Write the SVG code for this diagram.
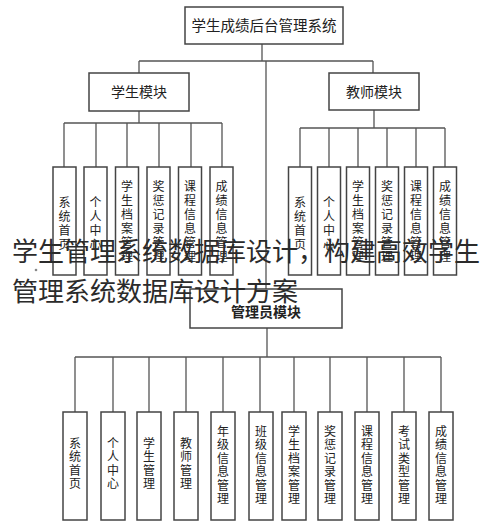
<svg xmlns="http://www.w3.org/2000/svg" width="490" height="524" viewBox="0 0 490 524">
<style>
.box{fill:#fff;stroke:#444;stroke-width:1.5}
.ln{fill:none;stroke:#555;stroke-width:1.3}
.t{font-family:"Noto Sans CJK SC","Noto Sans",sans-serif;fill:#222;text-anchor:middle}
.h{font-size:14.5px}
.m{font-size:14px}
.v{font-size:12px}
.ov{font-family:"Noto Sans CJK SC","Noto Sans",sans-serif;font-size:26px;fill:#2b2b2b}
</style>
<rect width="490" height="524" fill="#fff"/>
<g id="connectors">
<path class="ln" d="M262 44V61M139 61H373M266 61V289M139 61V73M373 61V73"/>
<path class="ln" d="M139 111V123M64 123H222M64 123V167M96 123V167M127 123V167M159 123V167M191 123V167M222 123V167"/>
<path class="ln" d="M374 110V128M300 128H445M300 128V167M329 128V167M358 128V167M387 128V167M416 128V167M445 128V167"/>
<path class="ln" d="M267 328V357M75 357H441M75 357V412M113 357V412M149 357V412M186 357V412M223 357V412M260 357V412M294 357V412M330 357V412M367 357V412M404 357V412M441 357V412"/>
</g>
<g id="root"><rect class="box" x="185" y="7" width="158" height="37"/><text class="t h" x="264" y="31">学生成绩后台管理系统</text></g>
<g id="student"><rect class="box" x="89" y="73" width="100" height="38"/><text class="t m" x="139" y="97">学生模块</text></g>
<g id="teacher"><rect class="box" x="329" y="73" width="90" height="37"/><text class="t m" x="374" y="97">教师模块</text></g>
<g id="admin"><rect class="box" x="190" y="289" width="152" height="39"/><text class="t m" x="266" y="317" font-weight="bold">管理员模块</text></g>
<g id="s1"><rect class="box" x="53" y="167" width="23" height="108"/><text class="t v" x="64.5" y="207"><tspan x="64.5">系</tspan><tspan x="64.5" dy="14">统</tspan><tspan x="64.5" dy="14">首</tspan><tspan x="64.5" dy="14">页</tspan></text></g>
<g id="s2"><rect class="box" x="84" y="167" width="23" height="108"/><text class="t v" x="95.5" y="207"><tspan x="95.5">个</tspan><tspan x="95.5" dy="14">人</tspan><tspan x="95.5" dy="14">中</tspan><tspan x="95.5" dy="14">心</tspan></text></g>
<g id="s3"><rect class="box" x="115.5" y="167" width="23" height="108"/><text class="t v" x="127" y="191"><tspan x="127">学</tspan><tspan x="127" dy="14">生</tspan><tspan x="127" dy="14">档</tspan><tspan x="127" dy="14">案</tspan><tspan x="127" dy="14">管</tspan><tspan x="127" dy="14">理</tspan></text></g>
<g id="s4"><rect class="box" x="147" y="167" width="23" height="108"/><text class="t v" x="158.5" y="191"><tspan x="158.5">奖</tspan><tspan x="158.5" dy="14">惩</tspan><tspan x="158.5" dy="14">记</tspan><tspan x="158.5" dy="14">录</tspan><tspan x="158.5" dy="14">管</tspan><tspan x="158.5" dy="14">理</tspan></text></g>
<g id="s5"><rect class="box" x="178.5" y="167" width="23" height="108"/><text class="t v" x="190" y="191"><tspan x="190">课</tspan><tspan x="190" dy="14">程</tspan><tspan x="190" dy="14">信</tspan><tspan x="190" dy="14">息</tspan><tspan x="190" dy="14">管</tspan><tspan x="190" dy="14">理</tspan></text></g>
<g id="s6"><rect class="box" x="210" y="167" width="23" height="108"/><text class="t v" x="221.5" y="191"><tspan x="221.5">成</tspan><tspan x="221.5" dy="14">绩</tspan><tspan x="221.5" dy="14">信</tspan><tspan x="221.5" dy="14">息</tspan><tspan x="221.5" dy="14">管</tspan><tspan x="221.5" dy="14">理</tspan></text></g>
<g id="t1"><rect class="box" x="288.5" y="167" width="23" height="108"/><text class="t v" x="300" y="207"><tspan x="300">系</tspan><tspan x="300" dy="14">统</tspan><tspan x="300" dy="14">首</tspan><tspan x="300" dy="14">页</tspan></text></g>
<g id="t2"><rect class="box" x="317.5" y="167" width="23" height="108"/><text class="t v" x="329" y="207"><tspan x="329">个</tspan><tspan x="329" dy="14">人</tspan><tspan x="329" dy="14">中</tspan><tspan x="329" dy="14">心</tspan></text></g>
<g id="t3"><rect class="box" x="346.5" y="167" width="23" height="108"/><text class="t v" x="358" y="191"><tspan x="358">学</tspan><tspan x="358" dy="14">生</tspan><tspan x="358" dy="14">档</tspan><tspan x="358" dy="14">案</tspan><tspan x="358" dy="14">管</tspan><tspan x="358" dy="14">理</tspan></text></g>
<g id="t4"><rect class="box" x="375.5" y="167" width="23" height="108"/><text class="t v" x="387" y="191"><tspan x="387">奖</tspan><tspan x="387" dy="14">惩</tspan><tspan x="387" dy="14">记</tspan><tspan x="387" dy="14">录</tspan><tspan x="387" dy="14">管</tspan><tspan x="387" dy="14">理</tspan></text></g>
<g id="t5"><rect class="box" x="404.5" y="167" width="23" height="108"/><text class="t v" x="416" y="191"><tspan x="416">课</tspan><tspan x="416" dy="14">程</tspan><tspan x="416" dy="14">信</tspan><tspan x="416" dy="14">息</tspan><tspan x="416" dy="14">管</tspan><tspan x="416" dy="14">理</tspan></text></g>
<g id="t6"><rect class="box" x="433.5" y="167" width="23" height="108"/><text class="t v" x="445" y="191"><tspan x="445">成</tspan><tspan x="445" dy="14">绩</tspan><tspan x="445" dy="14">信</tspan><tspan x="445" dy="14">息</tspan><tspan x="445" dy="14">管</tspan><tspan x="445" dy="14">理</tspan></text></g>
<g id="a1"><rect class="box" x="63" y="412" width="24" height="108"/><text class="t v" x="75" y="448"><tspan x="75">系</tspan><tspan x="75" dy="13.4">统</tspan><tspan x="75" dy="13.4">首</tspan><tspan x="75" dy="13.4">页</tspan></text></g>
<g id="a2"><rect class="box" x="101" y="412" width="24" height="108"/><text class="t v" x="113" y="448"><tspan x="113">个</tspan><tspan x="113" dy="13.4">人</tspan><tspan x="113" dy="13.4">中</tspan><tspan x="113" dy="13.4">心</tspan></text></g>
<g id="a3"><rect class="box" x="137" y="412" width="24" height="108"/><text class="t v" x="149" y="448"><tspan x="149">学</tspan><tspan x="149" dy="13.4">生</tspan><tspan x="149" dy="13.4">管</tspan><tspan x="149" dy="13.4">理</tspan></text></g>
<g id="a4"><rect class="box" x="174" y="412" width="24" height="108"/><text class="t v" x="186" y="448"><tspan x="186">教</tspan><tspan x="186" dy="13.4">师</tspan><tspan x="186" dy="13.4">管</tspan><tspan x="186" dy="13.4">理</tspan></text></g>
<g id="a5"><rect class="box" x="211" y="412" width="24" height="108"/><text class="t v" x="223" y="436"><tspan x="223">年</tspan><tspan x="223" dy="13.4">级</tspan><tspan x="223" dy="13.4">信</tspan><tspan x="223" dy="13.4">息</tspan><tspan x="223" dy="13.4">管</tspan><tspan x="223" dy="13.4">理</tspan></text></g>
<g id="a6"><rect class="box" x="249" y="412" width="24" height="108"/><text class="t v" x="261" y="436"><tspan x="261">班</tspan><tspan x="261" dy="13.4">级</tspan><tspan x="261" dy="13.4">信</tspan><tspan x="261" dy="13.4">息</tspan><tspan x="261" dy="13.4">管</tspan><tspan x="261" dy="13.4">理</tspan></text></g>
<g id="a7"><rect class="box" x="282" y="412" width="24" height="108"/><text class="t v" x="294" y="436"><tspan x="294">学</tspan><tspan x="294" dy="13.4">生</tspan><tspan x="294" dy="13.4">档</tspan><tspan x="294" dy="13.4">案</tspan><tspan x="294" dy="13.4">管</tspan><tspan x="294" dy="13.4">理</tspan></text></g>
<g id="a8"><rect class="box" x="318" y="412" width="24" height="108"/><text class="t v" x="330" y="436"><tspan x="330">奖</tspan><tspan x="330" dy="13.4">惩</tspan><tspan x="330" dy="13.4">记</tspan><tspan x="330" dy="13.4">录</tspan><tspan x="330" dy="13.4">管</tspan><tspan x="330" dy="13.4">理</tspan></text></g>
<g id="a9"><rect class="box" x="355" y="412" width="24" height="108"/><text class="t v" x="367" y="436"><tspan x="367">课</tspan><tspan x="367" dy="13.4">程</tspan><tspan x="367" dy="13.4">信</tspan><tspan x="367" dy="13.4">息</tspan><tspan x="367" dy="13.4">管</tspan><tspan x="367" dy="13.4">理</tspan></text></g>
<g id="a10"><rect class="box" x="392" y="412" width="24" height="108"/><text class="t v" x="404" y="436"><tspan x="404">考</tspan><tspan x="404" dy="13.4">试</tspan><tspan x="404" dy="13.4">类</tspan><tspan x="404" dy="13.4">型</tspan><tspan x="404" dy="13.4">管</tspan><tspan x="404" dy="13.4">理</tspan></text></g>
<g id="a11"><rect class="box" x="429" y="412" width="24" height="108"/><text class="t v" x="441" y="436"><tspan x="441">成</tspan><tspan x="441" dy="13.4">绩</tspan><tspan x="441" dy="13.4">信</tspan><tspan x="441" dy="13.4">息</tspan><tspan x="441" dy="13.4">管</tspan><tspan x="441" dy="13.4">理</tspan></text></g>
<circle cx="36" cy="270" r="1.3" fill="#888"/>
<g id="overlay">
<text class="ov" x="12" y="261" textLength="468" lengthAdjust="spacingAndGlyphs">学生管理系统数据库设计，构建高效学生</text>
<text class="ov" x="12" y="301">管理系统数据库设计方案</text>
</g>
</svg>
